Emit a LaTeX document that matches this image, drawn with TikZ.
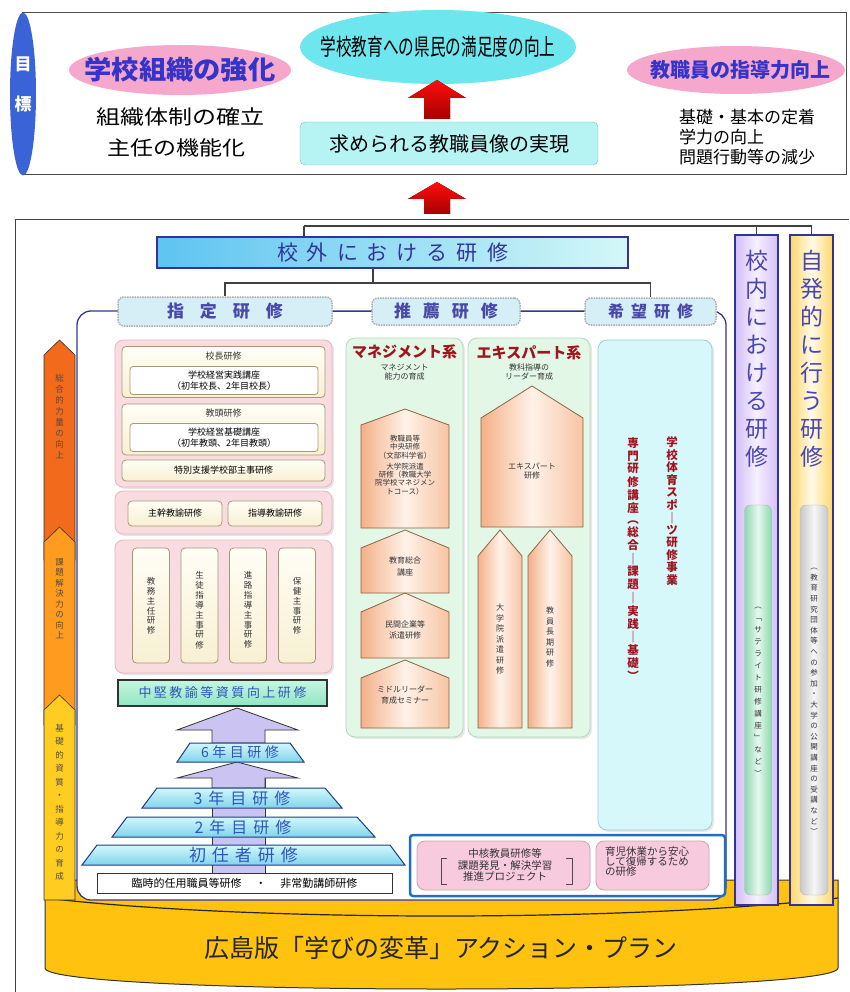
\documentclass[tikz,border=0pt]{standalone}
\usepackage{fontspec}
\usepackage{graphicx}
\setmainfont{Noto Sans CJK JP}
\usetikzlibrary{shapes.geometric,shadows}
\newcommand\fsz[2]{\fontsize{#1}{#2}\selectfont}
\ExplSyntaxOn
\tl_new:N \l_rs_tl
\NewDocumentCommand\VStk{m}{
  \tl_clear:N \l_rs_tl
  \tl_map_inline:nn {#1}{
    \tl_if_empty:NF \l_rs_tl {\tl_put_right:Nn \l_rs_tl {\\}}
    \tl_put_right:Nn \l_rs_tl {##1}}
  \renewcommand\arraystretch{1}
  \begin{tabular}{@{}c@{}}\l_rs_tl\end{tabular}}
\NewDocumentCommand\LSp{mm}{
  \tl_clear:N \l_rs_tl
  \tl_map_inline:nn {#2}{
    \tl_if_empty:NF \l_rs_tl {\tl_put_right:Nn \l_rs_tl {\kern#1}}
    \tl_put_right:Nn \l_rs_tl {##1}}
  \l_rs_tl}
\ExplSyntaxOff
\definecolor{blueE}{HTML}{3A63D8}
\definecolor{pinkE}{HTML}{F5A8CC}
\definecolor{cyanE}{HTML}{6EE6EE}
\definecolor{cyanBox}{HTML}{B6F3F3}
\definecolor{cyanBd}{HTML}{6FC0C0}
\definecolor{blueT}{HTML}{3434C8}
\definecolor{navy}{HTML}{33339A}
\definecolor{hdrF}{HTML}{D6EEF6}
\definecolor{hdrT}{HTML}{4848A8}
\definecolor{frameC}{HTML}{35358F}
\definecolor{pinkBg}{HTML}{F9DCE0}
\definecolor{pinkBd}{HTML}{E8B4BC}
\definecolor{creamT}{HTML}{FFFEF6}
\definecolor{creamB}{HTML}{F8F0D2}
\definecolor{creamBd}{HTML}{A89878}
\definecolor{mintT}{HTML}{C6F6E0}
\definecolor{mintB}{HTML}{8FE6C2}
\definecolor{trapT}{HTML}{D2F7FC}
\definecolor{trapB}{HTML}{80D4EA}
\definecolor{trapBd}{HTML}{1F3C88}
\definecolor{trapTx}{HTML}{2F55C0}
\definecolor{lav}{HTML}{CBC4F2}
\definecolor{mgF}{HTML}{E2F7E6}
\definecolor{mgBd}{HTML}{B6D6BE}
\definecolor{peachL}{HTML}{F4B088}
\definecolor{peachM}{HTML}{FFF2E8}
\definecolor{peachR}{HTML}{F6C4A4}
\definecolor{pentBd}{HTML}{8C6444}
\definecolor{hopeF}{HTML}{D6F8FB}
\definecolor{hopeBd}{HTML}{9CCDD6}
\definecolor{darkred}{HTML}{A0141E}
\definecolor{gold}{HTML}{FFC20E}
\definecolor{oraA}{HTML}{F26A1B}
\definecolor{oraB}{HTML}{FF9B1E}
\definecolor{oraC}{HTML}{FFCC22}
\definecolor{blueFr}{HTML}{1F6FC0}
\definecolor{pinkBx}{HTML}{F8CADD}
\definecolor{pinkBxBd}{HTML}{D0A0B4}
\definecolor{colT}{HTML}{4A48B0}
\definecolor{lavL}{HTML}{D4BEF6}
\definecolor{lavM}{HTML}{F6F0FF}
\definecolor{yelL}{HTML}{FFD66A}
\definecolor{yelM}{HTML}{FFFBEA}
\definecolor{grnL}{HTML}{8ED8AE}
\definecolor{grnM}{HTML}{E6F8EE}
\definecolor{gryL}{HTML}{C8C8C8}
\definecolor{gryM}{HTML}{F6F6F6}
\tikzset{
  conn/.style={draw=black!75, line width=1.6},
  hdr/.style={draw=gray!65, densely dotted, line width=1.5, fill=hdrF, rounded corners=6, inner sep=0, text=hdrT, font=\bfseries\fsz{17}{20}},
  pinkgrp/.style={draw=pinkBd, line width=0.8, fill=pinkBg, rounded corners=8, inner sep=0, drop shadow={shadow xshift=2pt, shadow yshift=-2pt, fill=gray!40}},
  creambox/.style={draw=creamBd, line width=0.8, top color=creamT, bottom color=creamB, rounded corners=4, inner sep=0},
  innerbox/.style={draw=creamBd, line width=0.8, fill=white, rounded corners=3, inner sep=0},
  smalltxt/.style={font=\fsz{9}{11}, text=black!80, inner sep=0},
  pent/.style={draw=pentBd, line width=0.8, left color=peachL, right color=peachR, middle color=peachM},
  trap/.style={draw=trapBd, line width=1, top color=trapT, bottom color=trapB},
  uparrow/.style={draw=black!80, line width=0.8, fill=lav},
  trtxt/.style={inner sep=0, text=trapTx},
  colbox/.style={draw=navy, line width=2, inner sep=0},
  redarrow/.style={top color=red!95!white, bottom color=red!65!black},
  greenbox/.style={draw=mgBd, line width=0.8, fill=mgF, rounded corners=9, inner sep=0, drop shadow={shadow xshift=2pt, shadow yshift=-2pt, fill=gray!35}},
  hopebox/.style={draw=hopeBd, line width=0.8, fill=hopeF, rounded corners=9, inner sep=0, drop shadow={shadow xshift=2pt, shadow yshift=-2pt, fill=gray!35}},
  pinkbox/.style={draw=pinkBxBd, line width=0.8, fill=pinkBx, rounded corners=8, inner sep=0},
  ttl/.style={inner sep=0, text=darkred, font=\bfseries\fsz{15}{18}},
  sub/.style={inner sep=0, text=black!80, font=\fsz{8}{9.5}, align=center},
  leftarrow/.style={draw=gray!40!black, line width=0.6},
}
\newcommand\pent[5]{\draw[pent] ({(#1+#2)/2},#3) -- (#2,#4) -- (#2,#5) -- (#1,#5) -- (#1,#4) -- cycle;}
\begin{document}
\begin{tikzpicture}[x=1pt,y=-1pt]
\useasboundingbox (0,0) rectangle (849,992);
\fill[white] (0,0) rectangle (849,992);

% ---------------- top panel ----------------
\draw[gray!60!black, line width=1] (22,13) rectangle (846,175);
\node[ellipse, fill=blueE, minimum width=26, minimum height=163, inner sep=0] (goal) at (23,94) {};
\node[text=white, font=\bfseries\fsz{17}{40}, inner sep=0] (goalt) at (23,83) {\VStk{目標}};
\node[ellipse, fill=pinkE, minimum width=222, minimum height=50, inner sep=0] (soshiki) at (180,70) {};
\node[text=blueT, font=\bfseries\fsz{26}{30}, inner sep=0] (soshikit) at (180,70) {\scalebox{1.05}[1]{学校組織の強化}};
\node[ellipse, fill=cyanE, minimum width=276, minimum height=74, inner sep=0] (manzoku) at (438,47) {};
\node[font=\fsz{23}{26}, inner sep=0] (manzokut) at (438,47) {\scalebox{0.68}[1]{学校教育への県民の満足度の向上}};
\node[ellipse, fill=pinkE, minimum width=218, minimum height=48, inner sep=0] (shido) at (736,70) {};
\node[text=blueT, font=\bfseries\fsz{20}{24}, inner sep=0] (shidot) at (740,70) {教職員の指導力向上};
\node[font=\fsz{20}{24}, inner sep=0] (kakuritsu) at (180,117) {\scalebox{1.2}[1]{組織体制の確立}};
\node[font=\fsz{20}{24}, inner sep=0] (kinou) at (176,148) {\scalebox{1.15}[1]{主任の機能化}};
\node[font=\fsz{17}{20}, inner sep=0, anchor=west] (kiso) at (679,117) {基礎・基本の定着};
\node[font=\fsz{17}{20}, inner sep=0, anchor=west] (gakuryoku) at (679,137) {学力の向上};
\node[font=\fsz{17}{20}, inner sep=0, anchor=west] (mondai) at (679,157) {問題行動等の減少};
\node[draw=cyanBd, fill=cyanBox, rounded corners=5, minimum width=298, minimum height=43, font=\fsz{20}{22}, inner sep=0] (motome) at (449,143.5) {求められる教職員像の実現};
\fill[redarrow] (437,80) -- (466,98) -- (450,98) -- (450,119) -- (424,119) -- (424,98) -- (408,98) -- cycle;
\fill[redarrow] (437,182) -- (466,199) -- (450,199) -- (450,214) -- (424,214) -- (424,199) -- (408,199) -- cycle;

% ---------------- lower panel ----------------
\draw[gray!50!black, line width=1] (15,992) -- (15,220) -- (849,220);

% banner (behind)
\path[fill=gold, draw=gray!40!black, line width=1] (45,880) -- (838,880) -- (838,968) .. controls (838,996) and (45,996) .. (45,968) -- cycle;
\draw[gray!30!black, line width=1.2] (45,898) .. controls (250,922) and (630,922) .. (838,898);
\node[font=\fsz{25}{28}, text=black!85, inner sep=0] (plan) at (441,948) {広島版「学びの変革」アクション・プラン};

% inner frame
\draw[draw=frameC, line width=1.3, fill=white, rounded corners=14] (77,311) rectangle (726,900);

% left arrows
\draw[leftarrow, fill=oraA] (44,355) -- (59.5,340) -- (75,355) -- (75,560) -- (44,560) -- cycle;
\draw[leftarrow, fill=oraB] (44,542) -- (59.5,527) -- (75,542) -- (75,725) -- (44,725) -- cycle;
\draw[leftarrow, fill=oraC] (44,710) -- (59.5,695) -- (75,710) -- (75,900) -- (44,900) -- cycle;
\node[font=\fsz{8.5}{11}, text=black!70, inner sep=0] (la1) at (59.5,418) {\VStk{総合的力量の向上}};
\node[font=\fsz{8.5}{10.5}, text=black!70, inner sep=0] (la2) at (59.5,600) {\VStk{課題解決力の向上}};
\node[font=\fsz{8.5}{13.5}, text=black!70, inner sep=0] (la3) at (59.5,803) {\VStk{基礎的資質・指導力の育成}};

% headers
\node[draw=navy, line width=1.5, left color=cyanE!85!blue, right color=cyanBox!60!white, minimum width=471, minimum height=31, inner sep=0, text=navy, font=\fsz{21}{24}] (kogai) at (392.5,252.5) {\LSp{9pt}{校外における研修}};
\node[hdr, minimum width=214, minimum height=29] (shitei) at (225,311.5) {\LSp{16pt}{指定研修}};
\node[hdr, minimum width=148, minimum height=27] (suisen) at (446,311.5) {\LSp{12pt}{推薦研修}};
\node[hdr, minimum width=131, minimum height=27, font=\bfseries\fsz{16}{20}] (kibo) at (650.5,311.5) {\LSp{7pt}{希望研修}};
\draw[frameC, line width=1.3] (shitei.east) -- (suisen.west);
\draw[frameC, line width=1.3] (suisen.east) -- (kibo.west);

% right columns
\node[colbox, left color=lavL, right color=lavL, middle color=lavM, minimum width=43, minimum height=670] (konai) at (756.5,570) {};
\node[colbox, left color=yelL, right color=yelL, middle color=yelM, minimum width=43, minimum height=670] (jihatsu) at (811.5,570) {};
\node[font=\fsz{23}{28}, text=colT, inner sep=0] (konait) at (756.5,362) {\VStk{校内における研修}};
\node[font=\fsz{23}{28}, text=colT, inner sep=0] (jihatsut) at (811.5,362) {\VStk{自発的に行う研修}};
\node[draw=gray!60, rounded corners=6, left color=grnL, right color=grnL, middle color=grnM, minimum width=27, minimum height=390, inner sep=0] (sat) at (758,700) {};
\node[font=\fsz{7.5}{12}, inner sep=0, text=black!80] (satt) at (758,690) {\VStk{︵﹁サテライト研修講座﹂など︶}};
\node[draw=gray!60, rounded corners=6, left color=gryL, right color=gryL, middle color=gryM, minimum width=28, minimum height=390, inner sep=0] (dantai) at (814,700) {};
\node[font=\fsz{7.5}{10.6}, inner sep=0, text=black!80] (dantait) at (814,700) {\VStk{︵教育研究団体等への参加・大学の公開講座の受講など︶}};

% tree connectors
\coordinate (tj) at (304,226);
\draw[conn] (tj) -- (tj |- kogai.north);
\draw[conn] (tj) -| (konai.north);
\draw[conn] (tj) -| (jihatsu.north);
\coordinate (tk) at (373,283);
\draw[conn] (tk |- kogai.south) -- (tk);
\draw[conn] (tk) -| (shitei.north);
\draw[conn] (tk) -| (kibo.north);

% ---- 指定研修 group ----
\node[pinkgrp, minimum width=217, minimum height=147] (g1) at (223.5,413.5) {};
\node[creambox, minimum width=203, minimum height=51] (kocho) at (223.5,372) {};
\node[smalltxt] (kochot) at (223.5,356) {校長研修};
\node[innerbox, minimum width=188, minimum height=28, font=\fsz{9}{11}, align=center] (kochoin) at (224,380.5) {学校経営実践講座\\（初年校長、2年目校長）};
\node[creambox, minimum width=203, minimum height=51] (kyoto) at (223.5,429.5) {};
\node[smalltxt] (kyotot) at (223.5,413) {教頭研修};
\node[innerbox, minimum width=188, minimum height=28, font=\fsz{9}{11}, align=center] (kyotoin) at (224,437.5) {学校経営基礎講座\\（初年教頭、2年目教頭）};
\node[creambox, minimum width=203, minimum height=21, font=\fsz{9}{11}] (tokushi) at (223.5,470.5) {特別支援学校部主事研修};

\node[pinkgrp, minimum width=217, minimum height=43] (g2) at (223.5,512.5) {};
\node[creambox, minimum width=94, minimum height=25, font=\fsz{9}{11}] (shukan) at (175,513.5) {主幹教諭研修};
\node[creambox, minimum width=94, minimum height=25, font=\fsz{9}{11}] (shidokyo) at (275,513.5) {指導教諭研修};

\node[pinkgrp, minimum width=217, minimum height=133] (g3) at (223.5,606.5) {};
\node[creambox, minimum width=37, minimum height=115] (v1) at (151,605.5) {};
\node[creambox, minimum width=37, minimum height=115] (v2) at (199.5,605.5) {};
\node[creambox, minimum width=37, minimum height=115] (v3) at (248,605.5) {};
\node[creambox, minimum width=37, minimum height=115] (v4) at (297,605.5) {};
\node[font=\fsz{8.5}{9.6}, inner sep=0, text=black!80] (v1t) at (151,607) {\VStk{教務主任研修}};
\node[font=\fsz{8.5}{9.6}, inner sep=0, text=black!80] (v2t) at (199.5,611) {\VStk{生徒指導主事研修}};
\node[font=\fsz{8.5}{9.6}, inner sep=0, text=black!80] (v3t) at (248,611) {\VStk{進路指導主事研修}};
\node[font=\fsz{8.5}{9.6}, inner sep=0, text=black!80] (v4t) at (297,607) {\VStk{保健主事研修}};

\node[draw=black!80, line width=1.2, top color=mintT, bottom color=mintB, minimum width=209, minimum height=26, font=\fsz{13}{15}, text=trapTx, inner sep=0] (chuken) at (222.5,693) {\LSp{2.5pt}{中堅教諭等資質向上研修}};

% pyramid
\draw[uparrow] (212,778) rectangle (265,873);
\draw[uparrow] (237,708) -- (298,730) -- (265,730) -- (265,743) -- (212,743) -- (212,730) -- (177,730) -- cycle;
\draw[uparrow] (237,762) -- (298,778) -- (265,778) -- (265,788) -- (212,788) -- (212,778) -- (177,778) -- cycle;
\draw[trap] (190,743) -- (290,743) -- (304,762) -- (177,762) -- cycle;
\draw[trap] (157,788) -- (325,788) -- (342,808) -- (142,808) -- cycle;
\draw[trap] (127,817) -- (357,817) -- (375,837) -- (112,837) -- cycle;
\draw[trap] (97,845) -- (390,845) -- (405,865) -- (82,865) -- cycle;
\node[trtxt, font=\fsz{14}{16}] (y6) at (240,752.5) {\LSp{3.5pt}{6年目研修}};
\node[trtxt, font=\fsz{16}{18}] (y3) at (242,798) {\LSp{6pt}{3年目研修}};
\node[trtxt, font=\fsz{16}{18}] (y2) at (243,827) {\LSp{6pt}{2年目研修}};
\node[trtxt, font=\fsz{17}{19}] (y1) at (243.5,855) {\LSp{6pt}{初任者研修}};
\node[draw=black!80, line width=1, fill=white, minimum width=295, minimum height=20, font=\fsz{11}{13}, inner sep=0] (rinji) at (244.5,883) {臨時的任用職員等研修\hspace{14pt}・\hspace{14pt}非常勤講師研修};

% ---- management ----
\node[greenbox, minimum width=117, minimum height=399] (mg) at (404.5,537.5) {};
\node[ttl] (mgt) at (404.5,352) {マネジメント系};
\node[sub] (mgs) at (404.5,372) {マネジメント\\能力の育成};
\pent{361}{449}{409}{425}{528}
\pent{361}{449}{530}{548}{593}
\pent{361}{449}{593}{612}{658}
\pent{361}{449}{660}{678}{728}
\node[inner sep=0, font=\fsz{7.5}{8.3}, align=center, text=black!80] (mp1) at (405,465) {教職員等\\中央研修\\（文部科学省）\\[3pt]大学院派遣\\研修（教職大学\\院学校マネジメン\\トコース）};
\node[sub, font=\fsz{8}{12}] (mp2) at (405,566) {教育総合\\講座};
\node[sub, font=\fsz{8}{11}] (mp3) at (405,630) {民間企業等\\派遣研修};
\node[sub, font=\fsz{8}{11}] (mp4) at (405,695) {ミドルリーダー\\育成セミナー};

% ---- expert ----
\node[greenbox, minimum width=122, minimum height=399] (ex) at (529,537.5) {};
\node[ttl] (ext) at (529,353) {エキスパート系};
\node[sub] (exs) at (529,372) {教科指導の\\リーダー育成};
\pent{481}{583}{386}{418}{527}
\pent{478}{522}{530}{556}{728}
\pent{528}{572}{530}{556}{728}
\node[sub] (ep1) at (532,471) {エキスパート\\研修};
\node[font=\fsz{8}{10.5}, inner sep=0, text=black!80] (ep2) at (500,640) {\VStk{大学院派遣研修}};
\node[font=\fsz{8}{10.5}, inner sep=0, text=black!80] (ep3) at (550,638) {\VStk{教員長期研修}};

% ---- hope ----
\node[hopebox, minimum width=114, minimum height=490] (kiboBox) at (655,585) {};
\node[font=\bfseries\fsz{11.5}{9.6}, text=darkred, inner sep=0] (taiiku) at (672,512) {\VStk{学校体育スポ｜ツ研修事業}};
\node[font=\bfseries\fsz{11.5}{11}, text=darkred, inner sep=0] (senmon) at (633,561) {\VStk{専門研修講座︵総合｜課題｜実践｜基礎︶}};

% ---- bottom right ----
\node[draw=blueFr, line width=2.5, fill=white, rounded corners=3, minimum width=315, minimum height=61, inner sep=0] (chukakuF) at (567.5,865.5) {};
\node[pinkbox, minimum width=173, minimum height=49] (pb1) at (503.5,865.5) {};
\node[pinkbox, minimum width=113, minimum height=49] (pb2) at (652.5,865.5) {};
\node[font=\fsz{10.5}{11.5}, align=center, inner sep=0, text=black!80] (chukakut) at (505,865) {中核教員研修等\\課題発見・解決学習\\推進プロジェクト};
\draw[black!70, line width=1] (447,858) -- (441,858) -- (441,884) -- (447,884);
\draw[black!70, line width=1] (566,858) -- (572,858) -- (572,884) -- (566,884);
\node[font=\fsz{10.5}{10}, align=left, anchor=west, inner sep=0, text=black!80] (ikuji) at (605,862) {育児休業から安心\\して復帰するため\\の研修};
\end{tikzpicture}
\end{document}
